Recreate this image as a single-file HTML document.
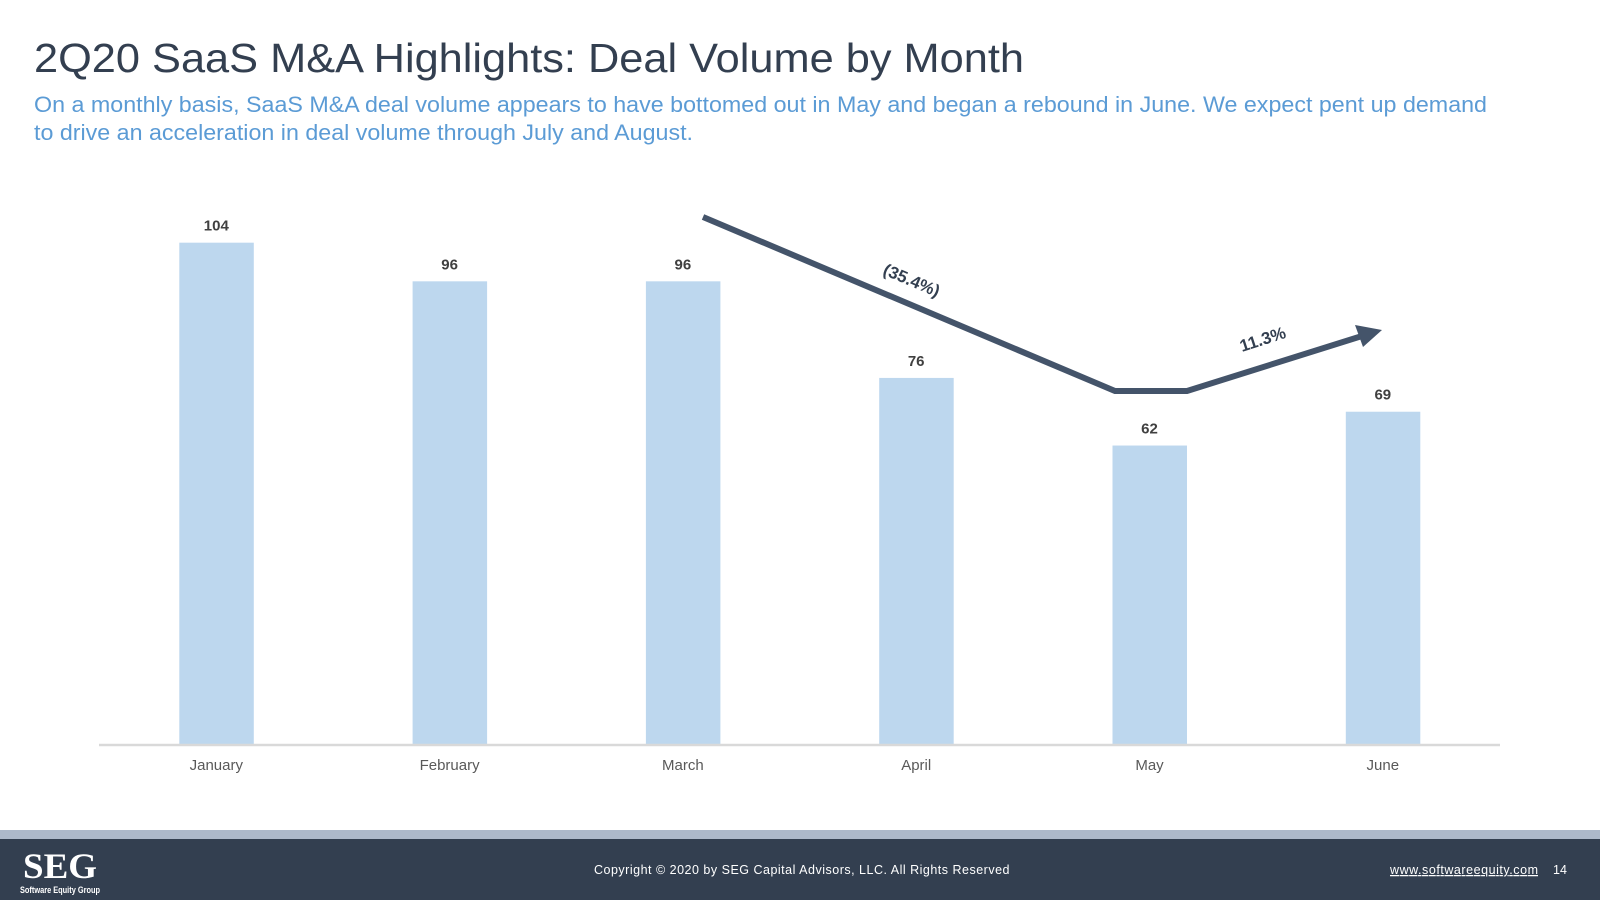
<!DOCTYPE html>
<html><head><meta charset="utf-8"><style>
body{margin:0;width:1600px;height:900px;overflow:hidden;background:#fff;font-family:"Liberation Sans",sans-serif;}
</style></head><body>
<svg width="1600" height="900" viewBox="0 0 1600 900" xmlns="http://www.w3.org/2000/svg">
<text x="34" y="72" font-size="41" fill="#333f50" textLength="990" lengthAdjust="spacingAndGlyphs">2Q20 SaaS M&amp;A Highlights: Deal Volume by Month</text>
<text font-size="22" fill="#5b9bd5"><tspan x="34" y="112" textLength="1453" lengthAdjust="spacingAndGlyphs">On a monthly basis, SaaS M&amp;A deal volume appears to have bottomed out in May and began a rebound in June. We expect pent up demand</tspan><tspan x="34" y="140" textLength="659" lengthAdjust="spacingAndGlyphs">to drive an acceleration in deal volume through July and August.</tspan></text>
<g id="chart"></g>
<line x1="99" y1="745" x2="1500" y2="745" stroke="#d9d9d9" stroke-width="2.5"/>
<polyline points="703,217 1115,391 1187,391 1362,336" fill="none" stroke="#44546a" stroke-width="6" stroke-linejoin="miter"/>
<polygon points="1382,330 1355,325 1363,347" fill="#44546a"/>
<text transform="translate(882,274) rotate(23)" font-size="17" font-weight="bold" fill="#333f50">(35.4%)</text>
<text transform="translate(1242,352) rotate(-18)" font-size="17" font-weight="bold" fill="#333f50">11.3%</text>
<rect x="0" y="830" width="1600" height="9" fill="#adb9ca"/>
<rect x="0" y="839" width="1600" height="61" fill="#333f50"/>
<text x="23" y="878" font-family="Liberation Serif" font-size="36" font-weight="bold" fill="#fff" textLength="74" lengthAdjust="spacingAndGlyphs">SEG</text>
<text x="20" y="893" font-size="9" font-weight="bold" fill="#fff" textLength="80" lengthAdjust="spacingAndGlyphs">Software Equity Group</text>
<text x="594" y="874" font-size="12.5" fill="#fff" letter-spacing="0.5">Copyright © 2020 by SEG Capital Advisors, LLC. All Rights Reserved</text>
<text x="1390" y="874" font-size="12.5" fill="#fff" text-decoration="underline" textLength="148">www.softwareequity.com</text>
<text x="1553" y="874" font-size="12.5" fill="#fff">14</text>
</svg>
<script>
const months=["January","February","March","April","May","June"];
const deals=[104,96,96,76,62,69];
const g=document.getElementById('chart');
const NS="http://www.w3.org/2000/svg";
function xc(i){return 216.3+i*233.3;}
function yv(v){return 745-v*4.83;}
months.forEach((m,i)=>{
  const r=document.createElementNS(NS,'rect');
  r.setAttribute('x',xc(i)-37);r.setAttribute('width',74.5);
  r.setAttribute('y',yv(deals[i]));r.setAttribute('height',745-yv(deals[i]));
  r.setAttribute('fill','#bdd7ee');
  
  
  g.appendChild(r);
  const t=document.createElementNS(NS,'text');
  t.setAttribute('x',xc(i));t.setAttribute('y',yv(deals[i])-12);
  t.setAttribute('text-anchor','middle');t.setAttribute('font-size','15');
  t.setAttribute('font-weight','bold');t.setAttribute('fill','#404040');
  t.textContent=deals[i];
  
  
  g.appendChild(t);
  const l=document.createElementNS(NS,'text');
  l.setAttribute('x',xc(i));l.setAttribute('y',770);
  l.setAttribute('text-anchor','middle');l.setAttribute('font-size','15');
  l.setAttribute('fill','#595959');
  l.textContent=m;
  
  
  g.appendChild(l);
});
</script>
</body></html>
